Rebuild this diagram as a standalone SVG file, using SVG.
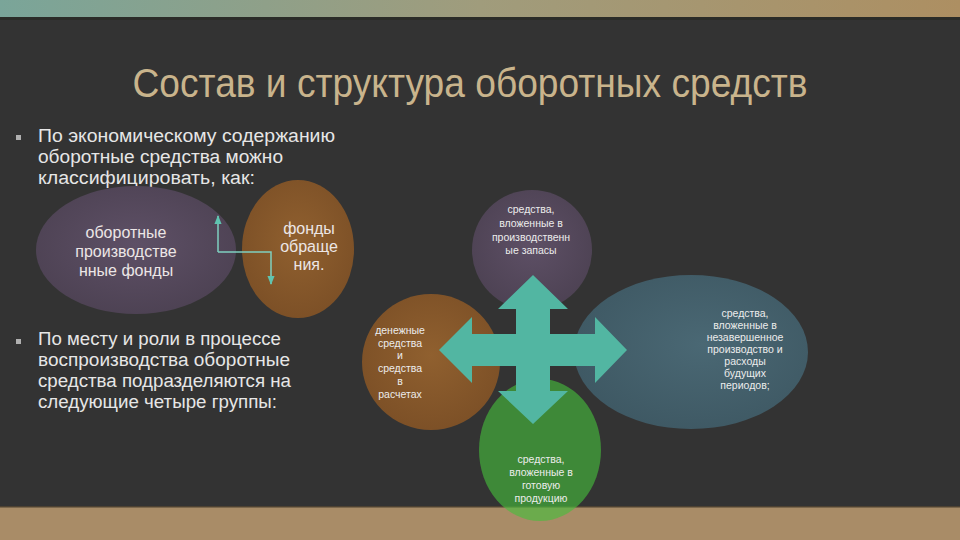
<svg xmlns="http://www.w3.org/2000/svg" width="960" height="540" viewBox="0 0 960 540">
<defs>
<linearGradient id="topband" x1="0" y1="0" x2="1" y2="0">
<stop offset="0" stop-color="#7aa599"/>
<stop offset="0.5" stop-color="#a09c7c"/>
<stop offset="1" stop-color="#ad8f62"/>
</linearGradient>
<radialGradient id="gPurple" cx="0.5" cy="0.45" r="0.6">
<stop offset="0" stop-color="#5e5066"/>
<stop offset="1" stop-color="#4c4152"/>
</radialGradient>
<radialGradient id="gOrange" cx="0.5" cy="0.45" r="0.6">
<stop offset="0" stop-color="#90602f"/>
<stop offset="1" stop-color="#7b4f26"/>
</radialGradient>
<radialGradient id="gBlue" cx="0.55" cy="0.45" r="0.6">
<stop offset="0" stop-color="#4a6874"/>
<stop offset="1" stop-color="#3e5863"/>
</radialGradient>
<marker id="arr" viewBox="0 0 10 10" refX="9" refY="5" markerWidth="6" markerHeight="6" orient="auto-start-reverse">
<path d="M0,1 L10,5 L0,9 Z" fill="#5fc4b0"/>
</marker>
<style>
.bul{font-family:"Liberation Sans",Arial,sans-serif;font-size:18px;fill:#e6e6e6}
.big{font-family:"Liberation Sans",Arial,sans-serif;font-size:16px;fill:#ece6e6;text-anchor:middle}
.sm{font-family:"Liberation Sans",Arial,sans-serif;font-size:10.5px;fill:#ececec;text-anchor:middle}
.conn{fill:none;stroke:#7fd0c0;stroke-width:1.5}
</style>
</defs>
<rect width="960" height="540" fill="#333333"/>
<rect width="960" height="17" fill="url(#topband)"/>
<rect y="17" width="960" height="3" fill="#2b2c28"/>
<rect y="507" width="960" height="33" fill="#a98c67"/>
<rect y="506" width="960" height="1.5" fill="#4e4232"/>

<text x="470" y="97" font-family="'Liberation Sans Narrow','Liberation Sans',Arial,sans-serif" font-size="40" fill="#c9b48c" text-anchor="middle" textLength="675" lengthAdjust="spacingAndGlyphs">Состав и структура оборотных средств</text>

<g id="bullet1">
<rect x="16" y="135" width="5" height="5" fill="#b0b0b0"/>
<text class="bul" x="38" y="142" textLength="297" lengthAdjust="spacingAndGlyphs">По экономическому содержанию</text>
<text class="bul" x="38" y="163" textLength="245" lengthAdjust="spacingAndGlyphs">оборотные средства можно</text>
<text class="bul" x="38" y="184" textLength="217" lengthAdjust="spacingAndGlyphs">классифицировать, как:</text>
</g>
<g id="bullet2">
<rect x="16" y="339" width="5" height="5" fill="#b0b0b0"/>
<text class="bul" x="38" y="345" textLength="243" lengthAdjust="spacingAndGlyphs">По месту и роли в процессе</text>
<text class="bul" x="38" y="366" textLength="252" lengthAdjust="spacingAndGlyphs">воспроизводства оборотные</text>
<text class="bul" x="38" y="387" textLength="253" lengthAdjust="spacingAndGlyphs">средства подразделяются на</text>
<text class="bul" x="38" y="408" textLength="239" lengthAdjust="spacingAndGlyphs">следующие четыре группы:</text>
</g>

<g id="node-production-funds">
<ellipse cx="136" cy="250" rx="100" ry="64" fill="url(#gPurple)"/>
<text class="big" x="126" y="238">оборотные</text>
<text class="big" x="126" y="257">производстве</text>
<text class="big" x="126" y="276">нные фонды</text>
</g>
<g id="node-circulation-funds">
<ellipse cx="298" cy="249" rx="56" ry="69" fill="url(#gOrange)"/>
<text class="big" x="309" y="234">фонды</text>
<text class="big" x="309" y="252">обраще</text>
<text class="big" x="309" y="270">ния.</text>
</g>

<g id="connectors">
<path class="conn" d="M218,252 L218,216" marker-end="url(#arr)"/>
<path class="conn" d="M218,252 L271,252 L271,284" marker-end="url(#arr)"/>
</g>

<g id="node-stocks">
<circle cx="532" cy="250" r="60" fill="url(#gPurple)"/>
<text class="sm" x="531" y="213">средства,</text>
<text class="sm" x="531" y="227">вложенные в</text>
<text class="sm" x="531" y="241">производственн</text>
<text class="sm" x="531" y="254">ые запасы</text>
</g>
<g id="node-wip">
<ellipse cx="691" cy="352" rx="117" ry="77" fill="url(#gBlue)"/>
<text class="sm" x="745" y="317">средства,</text>
<text class="sm" x="745" y="329">вложенные в</text>
<text class="sm" x="745" y="341">незавершенное</text>
<text class="sm" x="745" y="353">производство и</text>
<text class="sm" x="745" y="365">расходы</text>
<text class="sm" x="745" y="377">будущих</text>
<text class="sm" x="745" y="389">периодов;</text>
</g>
<g id="node-cash">
<ellipse cx="431" cy="362" rx="69" ry="68" fill="url(#gOrange)"/>
<text class="sm" x="400" y="334">денежные</text>
<text class="sm" x="400" y="347">средства</text>
<text class="sm" x="400" y="359">и</text>
<text class="sm" x="400" y="372">средства</text>
<text class="sm" x="400" y="385">в</text>
<text class="sm" x="400" y="398">расчетах</text>
</g>
<g id="node-goods">
<ellipse cx="540" cy="450" rx="61" ry="71" fill="#46bf3b" fill-opacity="0.62"/>
<text class="sm" x="541" y="463">средства,</text>
<text class="sm" x="541" y="476">вложенные в</text>
<text class="sm" x="541" y="489">готовую</text>
<text class="sm" x="541" y="502">продукцию</text>
</g>

<g id="cross-arrow">
<path d="M533,275 L568,309 L550,309 L550,334 L595,334 L595,317 L627,350 L595,383 L595,366 L550,366 L550,391 L568,391 L533,424 L498,391 L516,391 L516,366 L472,366 L472,383 L439,350 L472,317 L472,334 L516,334 L516,309 L498,309 Z" fill="#52b6a2"/>
</g>
</svg>
